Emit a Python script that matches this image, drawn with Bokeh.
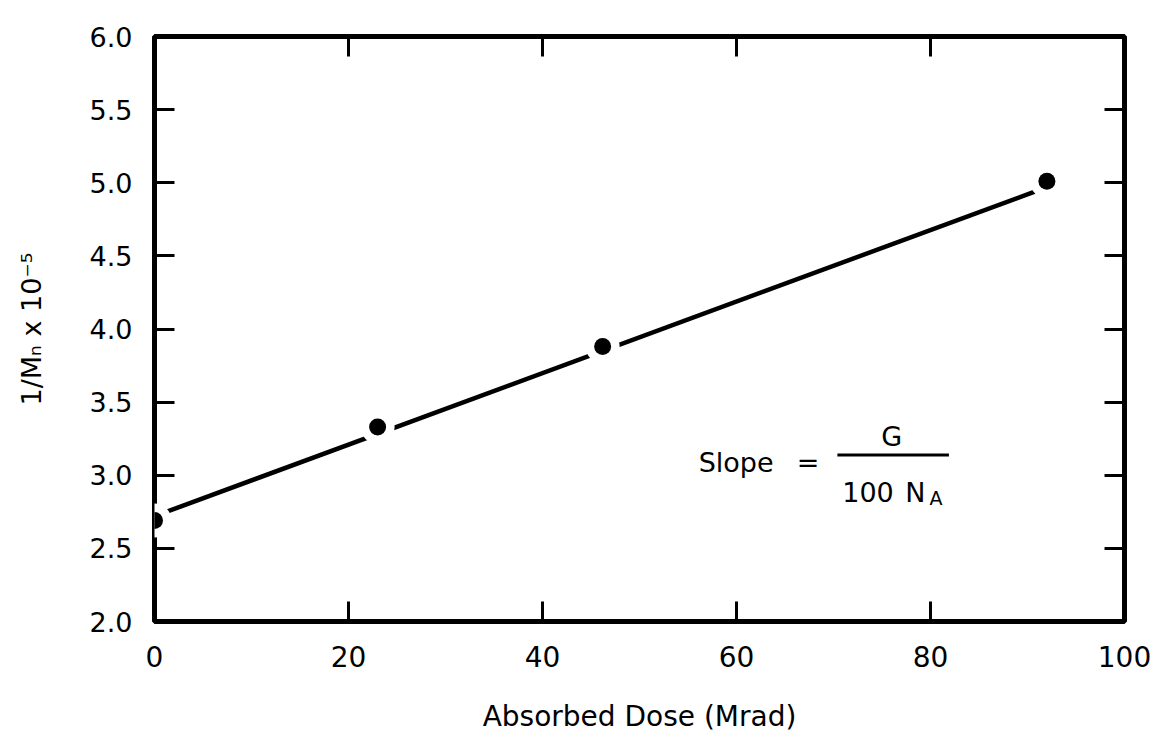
from bokeh.plotting import figure
from bokeh.models import (Range1d, FixedTicker, LinearAxis, Label, BoxAnnotation,
                          ColumnDataSource)
from bokeh.embed import file_html
from bokeh.resources import INLINE

# ---- data ----
dose = [0.0, 23.0, 46.2, 92.0]            # Absorbed dose (Mrad)
inv_mn = [2.69, 3.33, 3.88, 5.01]          # 1/Mn x 10^-5
fit_dose = [0.0, 92.0]                     # drawn straight line
fit_inv_mn = [2.72, 4.97]
x_ticks = [0, 20, 40, 60, 80, 100]
x_tick_labels = ["0", "20", "40", "60", "80", "100"]
y_ticks = [2.0, 2.5, 3.0, 3.5, 4.0, 4.5, 5.0, 5.5, 6.0]
y_tick_labels = ["2.0", "2.5", "3.0", "3.5", "4.0", "4.5", "5.0", "5.5", "6.0"]

FONT = "DejaVu Sans"

p = figure(width=1158, height=740, output_backend="svg", toolbar_location=None,
           x_range=Range1d(0, 100), y_range=Range1d(2, 6),
           min_border_left=154, min_border_right=34, min_border_top=36,
           min_border_bottom=119)
p.background_fill_color = "white"
p.border_fill_color = "white"
p.grid.visible = False
p.outline_line_color = "black"
p.outline_line_width = 5

bottom_ax = p.below[0]
left_ax = p.left[0]

def style_axis(ax, ticks, labels, show_labels, size):
    ax.ticker = FixedTicker(ticks=ticks)
    ax.major_label_overrides = {t: (l if show_labels else "") for t, l in zip(ticks, labels)}
    ax.minor_tick_line_color = None
    ax.major_tick_in = 20
    ax.major_tick_out = 0
    ax.major_tick_line_width = 3
    ax.major_tick_line_color = "black"
    ax.axis_line_color = None
    ax.major_label_text_font = FONT
    ax.major_label_text_color = "black"
    ax.major_label_text_font_size = size if show_labels else "1px"
    if not show_labels:
        ax.major_label_standoff = 0

style_axis(bottom_ax, x_ticks, x_tick_labels, True, "28px")
style_axis(left_ax, y_ticks, y_tick_labels, True, "27px")
bottom_ax.major_label_standoff = 24
left_ax.major_label_standoff = 22

top_ax = LinearAxis()
style_axis(top_ax, x_ticks, x_tick_labels, False, "1px")
p.add_layout(top_ax, "above")
right_ax = LinearAxis()
style_axis(right_ax, y_ticks, y_tick_labels, False, "1px")
p.add_layout(right_ax, "right")

bottom_ax.axis_label = "Absorbed Dose (Mrad)"
left_ax.axis_label = "1/M\u2099 x 10\u207b\u2075"
for ax, lsz, so in ((bottom_ax, "28px", 30), (left_ax, "27px", 40)):
    ax.axis_label_text_font = FONT
    ax.axis_label_text_font_size = lsz
    ax.axis_label_text_font_style = "normal"
    ax.axis_label_text_color = "black"
    ax.axis_label_standoff = so

# line, then white halos to break the line around each point, then the dots
p.line(fit_dose, fit_inv_mn, line_color="black", line_width=4.5)
src = ColumnDataSource(dict(x=dose, y=inv_mn))
p.scatter("x", "y", source=src, size=34, fill_color="white", line_color=None)
p.scatter("x", "y", source=src, size=17, fill_color="black", line_color=None)

# Slope annotation
def lab(x, y, text, size="27px", align="left"):
    p.add_layout(Label(x=x, y=y, text=text, text_font=FONT, text_font_size=size,
                       text_color="black", text_align=align, text_baseline="alphabetic"))

lab(56.1, 3.084, "Slope")
lab(66.2, 3.084, "=")
lab(76.0, 3.262, "G", align="center")
lab(70.9, 2.885, "100")
lab(77.4, 2.885, "N")
lab(79.9, 2.844, "A", size="19px")
p.add_layout(BoxAnnotation(left=70.4, right=81.9, bottom=3.129, top=3.149,
                           fill_color="black", fill_alpha=1.0, line_color=None))

open("out.html", "w").write(file_html(p, INLINE))
